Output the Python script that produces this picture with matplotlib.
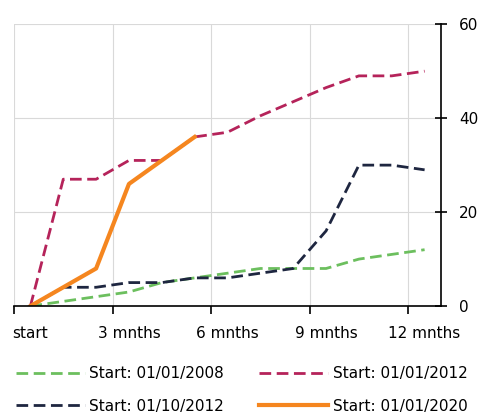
import numpy as np
import matplotlib.pyplot as plt

plt.rcParams['font.family'] = ['DejaVu Sans']

months = np.arange(13)
tick_labels = ['start', '3 mnths', '6 mnths', '9 mnths', '12 mnths']

start_2008 = [0, 1, 2, 3, 5, 6, 7, 8, 8, 8, 10, 11, 12]
start_2012 = [0, 27, 27, 31, 31, 36, 37, 40.5, 43.5, 46.5, 49, 49, 50]
start_oct2012 = [0, 4, 4, 5, 5, 6, 6, 7, 8, 16, 30, 30, 29]
start_2020 = [0, 4, 8, 26, 31, 36]

fig = plt.figure(figsize=(4.82, 4.17), dpi=100)
ax = fig.add_axes([0.029, 0.266, 0.886, 0.676])

dash = (4.2, 2.0)
l1, = ax.plot(months, start_2008, color='#6cbf5e', lw=2.0, dashes=dash, label='Start: 01/01/2008')
l2, = ax.plot(months, start_2012, color='#b5235a', lw=2.0, dashes=dash, label='Start: 01/01/2012')
l3, = ax.plot(months, start_oct2012, color='#1e2640', lw=2.0, dashes=dash, label='Start: 01/10/2012')
l4, = ax.plot(months[:len(start_2020)], start_2020, color='#f5861f', lw=3, label='Start: 01/01/2020')

ax.set_xlim(-0.5, 12.5)
ax.set_ylim(0, 60)
# tick marks sit between months, labels sit on the month itself
ax.set_xticks([-0.5, 2.5, 5.5, 8.5, 11.5])
ax.set_xticklabels([])
ax.set_xticks([0, 3, 6, 9, 12], minor=True)
ax.set_xticklabels(tick_labels, minor=True)
ax.set_yticks([0, 20, 40, 60])
ax.yaxis.tick_right()
ax.grid(True, which='major', color='#d9d9d9', lw=0.8)
ax.set_axisbelow(True)

for s in ['top', 'left']:
    ax.spines[s].set_visible(False)
ax.spines['right'].set_linewidth(1.2)
ax.spines['bottom'].set_linewidth(1.2)
ax.tick_params(axis='x', which='major', direction='out', length=6, width=1.2)
ax.tick_params(axis='x', which='minor', length=0, labelsize=11, pad=14)
ax.tick_params(axis='y', direction='inout', length=8, width=1.2, labelsize=11, pad=9)

fig.legend(handles=[l1, l3, l2, l4], ncol=2, frameon=False, fontsize=11,
           loc='lower left', bbox_to_anchor=(0.008, -0.021), borderpad=0.3,
           handlelength=4.5, handletextpad=0.3, columnspacing=2.3, labelspacing=1.13)

fig.savefig('out.png', dpi=100)
